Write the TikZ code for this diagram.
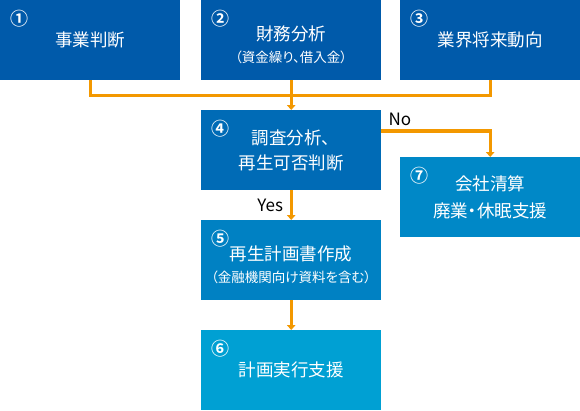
\documentclass[tikz,border=0pt]{standalone}
\usepackage{fontspec}
\setmainfont[RawFeature=+palt]{Noto Sans CJK JP}
\newfontfamily\badgefont{Noto Sans CJK JP Bold}
\usepackage{xcolor}
\usetikzlibrary{arrows.meta}
\definecolor{deepblue}{HTML}{005AAA}
\definecolor{midblue}{HTML}{006BB6}
\definecolor{planblue}{HTML}{0081C3}
\definecolor{exitblue}{HTML}{0088C7}
\definecolor{lightblue}{HTML}{00A0D3}
\definecolor{flow}{HTML}{F39800}
\tikzset{stage/.style={anchor=north west,minimum width=180pt,minimum height=80pt,
    inner sep=0pt,text=white,align=center,font=\fontsize{17.5}{25}\selectfont},
    badge/.style={text=white,inner sep=0pt,font=\badgefont\fontsize{18}{18}\selectfont},
    tag/.style={inner sep=0pt,font=\fontsize{17}{20}\selectfont},
    link/.style={draw=flow,line width=3.4pt},
    linkarrow/.style={link,-{Triangle[length=5pt,width=8.5pt]}}}

\begin{document}
\begin{tikzpicture}[x=1pt,y=-1pt]
            \useasboundingbox (0,0) rectangle (580,410);
            \node[stage,fill=deepblue] (b1) at (0,0) {事業判断};
            \node[stage,fill=deepblue] (b2) at (201,0)
                {\rule{0pt}{23pt}財務分析\\[-3pt]{\fontsize{13.5}{15}\selectfont（資金繰り、借入金）}};
            \node[stage,fill=deepblue] (b3) at (400,0) {業界将来動向};
            \node[stage,fill=midblue] (b4) at (201,110) {調査分析、\\再生可否判断};
            \node[stage,fill=exitblue] (b7) at (400,157) {会社清算\\[2pt]廃業・休眠支援};
            \node[stage,fill=planblue] (b5) at (201,220)
                {\rule{0pt}{23pt}再生計画書作成\\[-3pt]{\fontsize{13.5}{15}\selectfont（金融機関向け資料を含む）}};
            \node[stage,fill=lightblue] (b6) at (201,330) {計画実行支援};
            \foreach \i/\c in {1/①,2/②,3/③,4/④,5/⑤,6/⑥,7/⑦}
                \node[badge] (n\i) at ([shift={(19,19)}]b\i.north west) {\c};
            \draw[link] (b1.south) -- ++(0,15) -| (b3.south);
            \draw[linkarrow] (b2.south) -- (b4.north);
            \draw[linkarrow] ([yshift=-21pt]b4.north east) -| (b7.north);
            \draw[linkarrow] (b4.south) -- (b5.north);
            \draw[linkarrow] (b5.south) -- (b6.north);
            \node[tag,anchor=base west] (no) at ([xshift=7pt,yshift=-15pt]b4.north east) {No};
            \node[tag,anchor=base east] (yes) at ([xshift=-8pt,yshift=-21pt]b4.south) {Yes};
        \end{tikzpicture}
\end{document}
